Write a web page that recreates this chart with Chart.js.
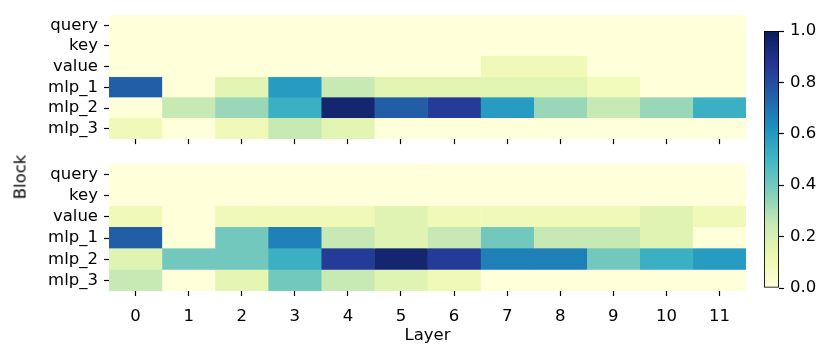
<!DOCTYPE html>
<html>
<head>
<meta charset="utf-8">
<script src="https://cdn.jsdelivr.net/npm/chart.js@4/dist/chart.umd.min.js"></script>
<style>
  body { margin: 0; background: #fff; }
  #wrap { position: relative; width: 830px; height: 355px; overflow: hidden; font-family: 'DejaVu Sans', sans-serif; }
  canvas { position: absolute; }
  #blockTitle { position: absolute; left: 20px; top: 177px; transform: translate(-50%, -50%) rotate(-90deg); font-size: 16.5px; color: #000; white-space: nowrap; }
</style>
</head>
<body>
<div id="wrap">
  <canvas id="topMap" style="left:0;top:-1px"></canvas>
  <canvas id="bottomMap" style="left:0;top:148px"></canvas>
  <canvas id="colorBar" style="left:750px;top:0"></canvas>
  <div id="blockTitle">Block</div>
</div>
<script>
var layers = [0, 1, 2, 3, 4, 5, 6, 7, 8, 9, 10, 11];
var blocks = ['query', 'key', 'value', 'mlp_1', 'mlp_2', 'mlp_3'];

// top heatmap, one array per block
var topQuery = [0, 0, 0, 0, 0, 0, 0, 0, 0, 0, 0, 0];
var topKey   = [0, 0, 0, 0, 0, 0, 0, 0, 0, 0, 0, 0];
var topValue = [0, 0, 0, 0, 0, 0, 0, 0.1, 0.1, 0, 0, 0];
var topMlp1  = [0.75, 0, 0.16, 0.59, 0.25, 0.16, 0.16, 0.16, 0.16, 0.09, 0, 0];
var topMlp2  = [0, 0.25, 0.33, 0.52, 0.95, 0.75, 0.85, 0.59, 0.33, 0.25, 0.33, 0.52];
var topMlp3  = [0.1, 0, 0.1, 0.25, 0.16, 0, 0, 0, 0, 0, 0, 0];

// bottom heatmap
var botQuery = [0, 0, 0, 0, 0, 0, 0, 0, 0, 0, 0, 0];
var botKey   = [0, 0, 0, 0, 0, 0, 0, 0, 0, 0, 0, 0];
var botValue = [0.1, 0, 0.1, 0.1, 0.1, 0.17, 0.1, 0.1, 0.1, 0.1, 0.17, 0.1];
var botMlp1  = [0.75, 0, 0.4, 0.67, 0.25, 0.17, 0.25, 0.4, 0.25, 0.25, 0.17, 0];
var botMlp2  = [0.17, 0.4, 0.4, 0.52, 0.85, 0.95, 0.85, 0.67, 0.67, 0.4, 0.52, 0.59];
var botMlp3  = [0.25, 0, 0.15, 0.4, 0.25, 0.17, 0.1, 0, 0, 0, 0, 0];

var barTicks = [0, 0.2, 0.4, 0.6, 0.8, 1.0];

var ylgnbu = [
  [255, 255, 217], [237, 248, 177], [199, 233, 180], [127, 205, 187], [65, 182, 196],
  [29, 145, 192], [34, 94, 168], [37, 52, 148], [8, 29, 88]
];

function cmap(v) {
  var t = Math.max(0, Math.min(1, v)) * (ylgnbu.length - 1);
  var i = Math.min(Math.floor(t), ylgnbu.length - 2);
  var f = t - i;
  var a = ylgnbu[i], b = ylgnbu[i + 1];
  return 'rgb(' + Math.round(a[0] + (b[0] - a[0]) * f) + ',' +
    Math.round(a[1] + (b[1] - a[1]) * f) + ',' +
    Math.round(a[2] + (b[2] - a[2]) * f) + ')';
}

var font = { family: "'DejaVu Sans', sans-serif", size: 16.5 };
Chart.defaults.color = '#000';
Chart.defaults.animation = false;

function buildMap(id, rows, height, topPad, xHeight, showLabels) {
  var canvas = document.getElementById(id);
  canvas.width = 750;
  canvas.height = height;
  canvas.style.width = '750px';
  canvas.style.height = height + 'px';

  var datasets = layers.map(function (layer, j) {
    var col = rows.map(function (r) { return cmap(r[j]); });
    return {
      data: blocks.map(function () { return [layer - 0.5, layer + 0.5]; }),
      backgroundColor: col,
      borderColor: col,
      borderWidth: 0.5,
      borderSkipped: false,
      grouped: false,
      barPercentage: 1,
      categoryPercentage: 1
    };
  });

  return new Chart(canvas, {
    type: 'bar',
    data: { labels: blocks, datasets: datasets },
    options: {
      indexAxis: 'y',
      responsive: false,
      devicePixelRatio: 1,
      layout: { padding: { top: topPad, right: 4, left: 0, bottom: 0 } },
      plugins: { legend: { display: false }, tooltip: { enabled: false } },
      scales: {
        y: {
          type: 'category',
          border: { display: false },
          grid: { drawOnChartArea: false, offset: false, tickLength: 5, tickColor: '#000', tickWidth: 1.2 },
          ticks: { font: font, padding: 6, autoSkip: false },
          afterFit: function (s) { s.width = 109; }
        },
        x: {
          type: 'linear',
          min: layers[0] - 0.5,
          max: layers[layers.length - 1] + 0.5,
          border: { display: false },
          grid: { drawOnChartArea: false, tickLength: 5, tickColor: '#000', tickWidth: 1.2 },
          ticks: { display: showLabels, font: font, padding: 11 },
          afterBuildTicks: function (s) { s.ticks = layers.map(function (v) { return { value: v }; }); },
          title: { display: showLabels, text: 'Layer', font: font, padding: { top: 0, bottom: 9 } },
          afterFit: function (s) { s.height = xHeight; }
        }
      }
    }
  });
}

buildMap('topMap', [topQuery, topKey, topValue, topMlp1, topMlp2, topMlp3], 156, 12, 13, false);
buildMap('bottomMap', [botQuery, botKey, botValue, botMlp1, botMlp2, botMlp3], 207, 11, 64, true);

// colour bar
var cb = document.getElementById('colorBar');
cb.width = 80;
cb.height = 355;
cb.style.width = '80px';
cb.style.height = '355px';

new Chart(cb, {
  type: 'bar',
  data: {
    labels: [''],
    datasets: [{
      data: [[barTicks[0], barTicks[barTicks.length - 1]]],
      backgroundColor: function (ctx) {
        var area = ctx.chart.chartArea;
        if (!area) return cmap(0.5);
        var g = ctx.chart.ctx.createLinearGradient(0, area.bottom, 0, area.top);
        ylgnbu.forEach(function (c, i) {
          g.addColorStop(i / (ylgnbu.length - 1), 'rgb(' + c.join(',') + ')');
        });
        return g;
      },
      borderColor: '#000',
      borderWidth: 1.2,
      borderSkipped: false,
      barPercentage: 1,
      categoryPercentage: 1
    }]
  },
  options: {
    responsive: false,
    devicePixelRatio: 1,
    layout: { padding: { top: 31, bottom: 67, left: 14, right: 0 } },
    plugins: { legend: { display: false }, tooltip: { enabled: false } },
    scales: {
      x: { display: false },
      y: {
        position: 'right',
        min: 0,
        max: 1,
        border: { display: false },
        grid: { drawOnChartArea: false, tickLength: 5, tickColor: '#000', tickWidth: 1.2 },
        ticks: {
          font: font,
          padding: 6,
          callback: function (v) { return Number(v).toFixed(1); }
        },
        afterBuildTicks: function (s) { s.ticks = barTicks.map(function (v) { return { value: v }; }); },
        afterFit: function (s) { s.width = 51; }
      }
    }
  }
});
</script>
</body>
</html>
